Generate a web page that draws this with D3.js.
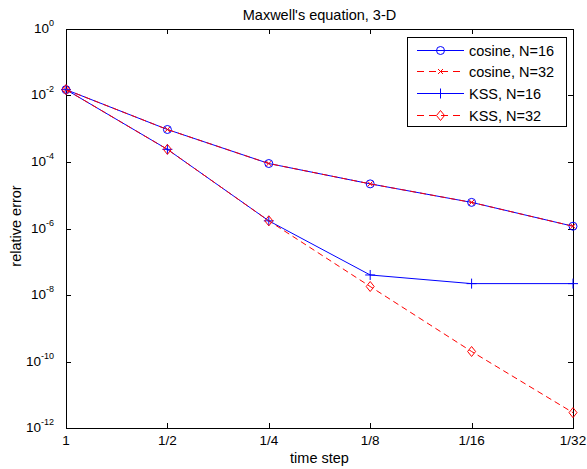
<!DOCTYPE html>
<html>
<head>
<meta charset="utf-8">
<script src="https://cdn.jsdelivr.net/npm/d3@7"></script>
<style>
  body { margin: 0; background: #fff; }
  svg { font-family: "Liberation Sans", Arial, sans-serif; }
</style>
</head>
<body>
<svg width="587" height="469"></svg>
<script>
// time steps and tick labels
const steps = [1, 1/2, 1/4, 1/8, 1/16, 1/32];
const stepLabels = ["1", "1/2", "1/4", "1/8", "1/16", "1/32"];
const yExps = [0, -2, -4, -6, -8, -10, -12];

// relative errors
const cosine16 = [1.5e-2, 9.5e-4, 9e-5, 2.2e-5, 6.1e-6, 1.17e-6];
const cosine32 = [1.5e-2, 9.5e-4, 9e-5, 2.2e-5, 6.1e-6, 1.17e-6];
const kss16 = [1.5e-2, 2.4e-4, 1.7e-6, 4e-8, 2.2e-8, 2.2e-8];
const kss32 = [1.5e-2, 2.4e-4, 1.7e-6, 1.8e-8, 2e-10, 2.9e-12];

const series = [
  { name: "cosine, N=16", values: cosine16, color: "#0000ff", dash: null, marker: "circle" },
  { name: "cosine, N=32", values: cosine32, color: "#ff0000", dash: "6,4", marker: "x" },
  { name: "KSS, N=16", values: kss16, color: "#0000ff", dash: null, marker: "plus" },
  { name: "KSS, N=32", values: kss32, color: "#ff0000", dash: "6,4", marker: "diamond" }
];

const svg = d3.select("svg");
const pLeft = 66, pRight = 573, pTop = 29, pBottom = 428;

const x = d3.scaleLog().domain([1, 1/32]).range([pLeft, pRight]);
const y = d3.scaleLog().domain([1e-12, 1]).range([pBottom, pTop]);

// frame
svg.append("rect")
  .attr("x", pLeft + 0.5).attr("y", pTop + 0.5)
  .attr("width", pRight - pLeft).attr("height", pBottom - pTop)
  .attr("fill", "none").attr("stroke", "#000").attr("stroke-width", 1);

const tickLen = 5;
// x ticks (bottom + top)
steps.forEach((s, i) => {
  const px = Math.round(x(s)) + 0.5;
  svg.append("line").attr("x1", px).attr("x2", px).attr("y1", pBottom).attr("y2", pBottom - tickLen).attr("stroke", "#000");
  svg.append("line").attr("x1", px).attr("x2", px).attr("y1", pTop).attr("y2", pTop + tickLen).attr("stroke", "#000");
  svg.append("text")
    .attr("x", x(s)).attr("y", pBottom + 17)
    .attr("text-anchor", "middle")
    .attr("font-size", 13.5)
    .text(stepLabels[i]);
});

// y ticks (left + right)
yExps.forEach(e => {
  const py = Math.round(y(Math.pow(10, e))) + 0.5;
  svg.append("line").attr("x1", pLeft).attr("x2", pLeft + tickLen).attr("y1", py).attr("y2", py).attr("stroke", "#000");
  svg.append("line").attr("x1", pRight).attr("x2", pRight - tickLen).attr("y1", py).attr("y2", py).attr("stroke", "#000");
  const t = svg.append("text")
    .attr("x", pLeft - 12).attr("y", py + 3)
    .attr("text-anchor", "end")
    .attr("font-size", 13.5);
  t.append("tspan").text("10");
  t.append("tspan").attr("dy", -7).attr("font-size", 9).text(e === 0 ? "0" : "-" + (-e));
});

// axis titles
svg.append("text")
  .attr("x", (pLeft + pRight) / 2).attr("y", 463)
  .attr("text-anchor", "middle").attr("font-size", 14.5)
  .text("time step");
svg.append("text")
  .attr("transform", "translate(21,226) rotate(-90)")
  .attr("text-anchor", "middle").attr("font-size", 14.5)
  .text("relative error");
svg.append("text")
  .attr("x", (pLeft + pRight) / 2).attr("y", 20)
  .attr("text-anchor", "middle").attr("font-size", 14.5)
  .text("Maxwell's equation, 3-D");

function drawMarker(g, type, cx, cy, color) {
  if (type === "circle") {
    g.append("circle").attr("cx", cx).attr("cy", cy).attr("r", 4)
      .attr("fill", "none").attr("stroke", color);
  } else if (type === "plus") {
    g.append("path").attr("d", `M${cx - 5},${cy}H${cx + 5}M${cx},${cy - 5}V${cy + 5}`)
      .attr("stroke", color).attr("fill", "none");
  } else if (type === "x") {
    g.append("path").attr("d", `M${cx - 2.5},${cy - 2.5}L${cx + 2.5},${cy + 2.5}M${cx - 2.5},${cy + 2.5}L${cx + 2.5},${cy - 2.5}`)
      .attr("stroke", color).attr("fill", "none");
  } else if (type === "diamond") {
    g.append("path").attr("d", `M${cx},${cy - 5}L${cx + 4},${cy}L${cx},${cy + 5}L${cx - 4},${cy}Z`)
      .attr("stroke", color).attr("fill", "none");
  }
}

const line = d3.line()
  .x((d, i) => x(steps[i]))
  .y(d => y(d));

const plot = svg.append("g");
series.forEach(s => {
  plot.append("path")
    .datum(s.values)
    .attr("d", line)
    .attr("fill", "none")
    .attr("stroke", s.color)
    .attr("stroke-width", 1)
    .attr("stroke-dasharray", s.dash);
  s.values.forEach((v, i) => drawMarker(plot, s.marker, x(steps[i]), y(v), s.color));
});

// legend
const lg = svg.append("g");
const lx = 407, ly = 37, lw = 159, lh = 89;
lg.append("rect").attr("x", lx + 0.5).attr("y", ly + 0.5).attr("width", lw).attr("height", lh)
  .attr("fill", "#fff").attr("stroke", "#000");
const rowY = [50, 71, 93, 115];
series.forEach((s, i) => {
  const ry = rowY[i] + 0.5;
  lg.append("line")
    .attr("x1", 417).attr("x2", 464).attr("y1", ry).attr("y2", ry)
    .attr("stroke", s.color).attr("stroke-dasharray", s.dash ? "7,5" : null);
  drawMarker(lg, s.marker, 440.5, ry, s.color);
  lg.append("text")
    .attr("x", 469).attr("y", ry + 5)
    .attr("font-size", 14.5)
    .text(s.name);
});
</script>
</body>
</html>
